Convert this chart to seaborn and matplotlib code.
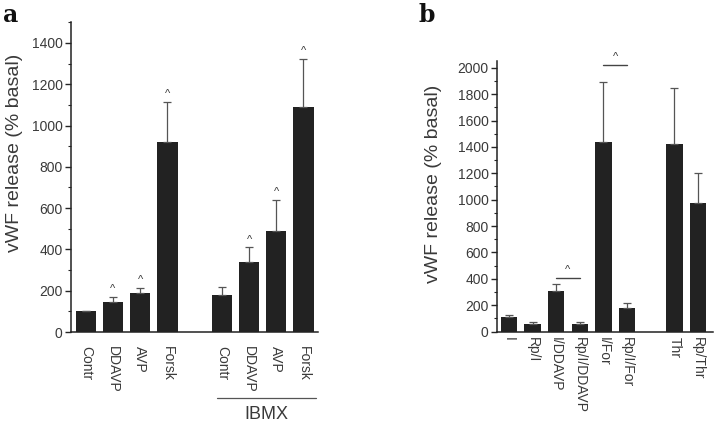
import matplotlib
matplotlib.use('Agg')
import matplotlib.pyplot as plt
import matplotlib.transforms as mtransforms
from matplotlib.ticker import MultipleLocator
import numpy as np
import pandas as pd
import seaborn as sns

# panel a
labels_a = ["Contr", "DDAVP", "AVP", "Forsk", "Contr", "DDAVP", "AVP", "Forsk"]
group_a = ["", "", "", "", "IBMX", "IBMX", "IBMX", "IBMX"]
mean_a = [100, 147, 187, 921, 179, 337, 490, 1088]
upper_a = [100, 171, 214, 1115, 219, 410, 639, 1322]
sig_a = [False, True, True, True, False, True, True, True]

# panel b
labels_b = ["I", "Rp/I", "I/DDAVP", "Rp/I/DDAVP", "I/For", "Rp/I/For", "Thr", "Rp/Thr"]
group_b = ["1", "1", "1", "1", "1", "1", "2", "2"]
mean_b = [110, 60, 305, 60, 1440, 180, 1425, 975]
upper_b = [125, 75, 360, 75, 1890, 220, 1850, 1205]
brackets_b = [("I/DDAVP", "Rp/I/DDAVP", 410), ("I/For", "Rp/I/For", 2020)]

BAR = '#222222'
TXT = '#3a3a3a'
ERR = '#555555'

sns.set_style('ticks')
plt.rcParams['font.family'] = ['Liberation Sans', 'DejaVu Sans']


def build_order(labels, groups):
    keys = [f"{g}|{l}" for g, l in zip(groups, labels)]
    order = []
    prev = groups[0]
    for k, g in zip(keys, groups):
        if g != prev:
            order.append(f"gap{len(order)}")
            prev = g
        order.append(k)
    return keys, order


def draw_panel(ax, labels, groups, mean, upper, width, ymax, pad):
    keys, order = build_order(labels, groups)
    df = pd.DataFrame({'key': keys, 'mean': mean})
    sns.barplot(data=df, x='key', y='mean', order=order, color=BAR, saturation=1,
                width=width, errorbar=None, ax=ax, linewidth=0)
    xpos = [order.index(k) for k in keys]
    lower = np.zeros(len(mean))
    up = np.array(upper) - np.array(mean)
    ax.errorbar(xpos, mean, yerr=[lower, up], fmt='none', ecolor=ERR,
                elinewidth=0.9, capsize=3, capthick=0.9, zorder=3)
    ax.set_xticks(range(len(order)))
    ax.set_xticklabels([k.split('|', 1)[1] if '|' in k else '' for k in order],
                       rotation=270, fontsize=10, color=TXT)
    ax.tick_params(axis='x', length=0, pad=pad)
    ax.tick_params(axis='y', direction='out', length=4, width=1, labelsize=10,
                   labelcolor=TXT, pad=2)
    ax.tick_params(axis='y', which='minor', direction='out', length=2.5, width=0.8)
    ax.yaxis.set_major_locator(MultipleLocator(200))
    ax.yaxis.set_minor_locator(MultipleLocator(100))
    ax.set_ylim(0, ymax)
    ax.set_xlabel('')
    ax.set_ylabel('vWF release (% basal)', fontsize=14, color=TXT)
    for s in ['top', 'right']:
        ax.spines[s].set_visible(False)
    for s in ['left', 'bottom']:
        ax.spines[s].set_linewidth(1.1)
        ax.spines[s].set_color('#222222')
    return keys, order, xpos


fig = plt.figure(figsize=(7.16, 4.38), dpi=100)
ax_a = fig.add_axes([0.099, 0.242, 0.345, 0.949 - 0.242])
ax_b = fig.add_axes([0.694, 0.2427, 0.302, 0.8605 - 0.2427])

keys_a, order_a, xpos_a = draw_panel(ax_a, labels_a, group_a, mean_a, upper_a, 0.74, 1500, 10)
ax_a.set_xlim(-0.55, 8.53)
ax_a.yaxis.set_label_coords(-0.194, 0.58)
for x, u, s in zip(xpos_a, upper_a, sig_a):
    if s:
        ax_a.annotate('^', (x, u), xytext=(0, 2), textcoords='offset points',
                      ha='center', va='bottom', fontsize=8, color=TXT)

# IBMX bracket under the labels
ib = [x for x, g in zip(xpos_a, group_a) if g == 'IBMX']
trans = mtransforms.blended_transform_factory(ax_a.transData, ax_a.transAxes)
ax_a.plot([min(ib) - 0.17, max(ib) + 0.47], [-0.213, -0.213], transform=trans,
          color='#555555', lw=0.9, clip_on=False)
ax_a.text((min(ib) + max(ib)) / 2 + 0.15, -0.268, 'IBMX', transform=trans,
          ha='center', va='center', fontsize=13, color=TXT)

keys_b, order_b, xpos_b = draw_panel(ax_b, labels_b, group_b, mean_b, upper_b, 0.7, 2050, 4)
ax_b.set_xlim(-0.51, 8.64)
ax_b.yaxis.set_label_coords(-0.253, 0.547)
for l1, l2, yv in brackets_b:
    x1 = xpos_b[labels_b.index(l1)]
    x2 = xpos_b[labels_b.index(l2)]
    ax_b.plot([x1, x2], [yv, yv], color='#444444', lw=1, clip_on=False)
    ax_b.annotate('^', ((x1 + x2) / 2, yv), xytext=(0, 2), textcoords='offset points',
                  ha='center', va='bottom', fontsize=8, color=TXT)

fig.text(0.004, 0.965, 'a', fontsize=17, fontweight='bold', family='DejaVu Serif',
         color='#111111', va='center')
fig.text(0.585, 0.965, 'b', fontsize=17, fontweight='bold', family='DejaVu Serif',
         color='#111111', va='center')

fig.savefig('out.png', dpi=100)
